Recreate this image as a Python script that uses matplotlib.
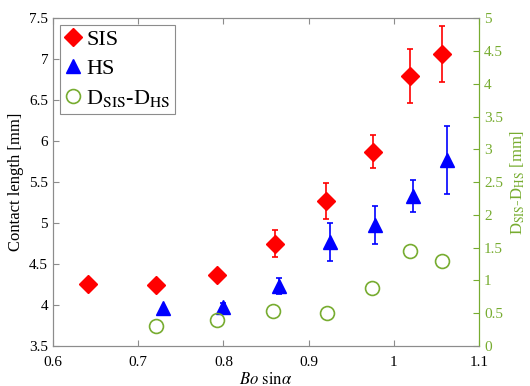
import numpy as np
import matplotlib.pyplot as plt

plt.rcParams['font.family'] = ['Liberation Serif', 'DejaVu Serif']
plt.rcParams['mathtext.fontset'] = 'stix'

# SIS data
x_sis = [0.641, 0.721, 0.793, 0.860, 0.920, 0.975, 1.019, 1.056]
y_sis = [4.26, 4.24, 4.37, 4.75, 5.27, 5.87, 6.79, 7.06]
e_sis = [0.0, 0.0, 0.0, 0.17, 0.22, 0.20, 0.33, 0.34]

# HS data
x_hs = [0.729, 0.800, 0.865, 0.925, 0.978, 1.023, 1.062]
y_hs = [3.96, 3.98, 4.23, 4.77, 4.98, 5.33, 5.77]
e_hs = [0.0, 0.04, 0.10, 0.23, 0.23, 0.20, 0.42]

# difference D_SIS - D_HS (right axis)
x_d = [0.721, 0.793, 0.858, 0.921, 0.974, 1.019, 1.057]
y_d = [0.30, 0.39, 0.54, 0.50, 0.89, 1.45, 1.29]

green = '#77AC30'
grey = '#8c8c8c'

fig = plt.figure(figsize=(5.3, 3.86), dpi=100)
ax = fig.add_axes([0.1, 0.1036, 0.804, 0.8494])
ax2 = ax.twinx()

h1 = ax.errorbar(x_sis, y_sis, yerr=e_sis, fmt='D', color='red', ms=9,
                 capsize=2, elinewidth=1.2, capthick=1.2)
h2 = ax.errorbar(x_hs, y_hs, yerr=e_hs, fmt='^', color='blue', ms=10,
                 capsize=2, elinewidth=1.2, capthick=1.2)
h3, = ax2.plot(x_d, y_d, 'o', mfc='none', mec=green, ms=10, mew=1.2)

ax.set_xlim(0.6, 1.1)
ax.set_ylim(3.5, 7.5)
ax2.set_ylim(0, 5)
ax.set_xticks(np.arange(0.6, 1.11, 0.1))
ax.set_yticks(np.arange(3.5, 7.51, 0.5))
ax2.set_yticks(np.arange(0, 5.01, 0.5))
ax.set_xticklabels(['0.6', '0.7', '0.8', '0.9', '1', '1.1'])
ax.set_yticklabels(['3.5', '4', '4.5', '5', '5.5', '6', '6.5', '7', '7.5'])
ax2.set_yticklabels(['0', '0.5', '1', '1.5', '2', '2.5', '3', '3.5', '4', '4.5', '5'])

ax.tick_params(direction='in', labelsize=11, top=True, color=grey, length=4)
ax.tick_params(axis='x', pad=7)
ax2.tick_params(direction='in', labelsize=11, colors=green, length=4)

for s in ['left', 'top', 'bottom']:
    ax.spines[s].set_color(grey)
    ax2.spines[s].set_color(grey)
ax2.spines['right'].set_color(green)
ax.spines['right'].set_color(green)

ax.set_xlabel(r'$Bo\ \mathrm{sin}\alpha$', fontsize=12, labelpad=2)
ax.set_ylabel('Contact length [mm]', fontsize=12, labelpad=4)
ax2.set_ylabel(r'D$_{\mathrm{SIS}}$-D$_{\mathrm{HS}}$ [mm]', fontsize=12,
               color=green, labelpad=4)

leg = ax.legend([h1[0], h2[0], h3], ['SIS', 'HS', r'D$_{\mathrm{SIS}}$-D$_{\mathrm{HS}}$'],
                loc='upper left', fontsize=16, fancybox=False, framealpha=1,
                edgecolor=grey, handlelength=0.8, handletextpad=0.2,
                borderpad=0.2, labelspacing=0.4, borderaxespad=0.3)
leg.get_frame().set_linewidth(0.8)

fig.savefig('out.png', dpi=100)
